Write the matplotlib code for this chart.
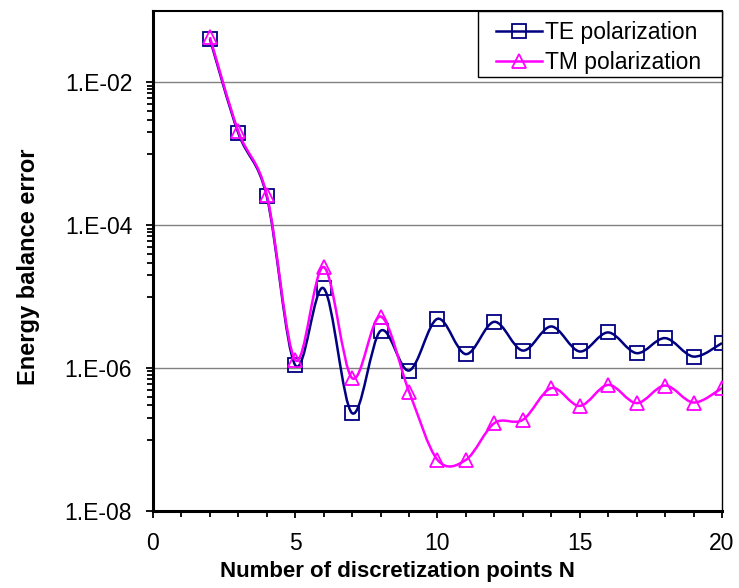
import numpy as np
import matplotlib
matplotlib.use("Agg")
import matplotlib.pyplot as plt
from matplotlib.path import Path
from matplotlib.patches import PathPatch, Rectangle
from matplotlib.lines import Line2D
from matplotlib.ticker import FixedLocator, FuncFormatter

plt.rcParams['font.family'] = ['Liberation Sans', 'DejaVu Sans']

# data
n_points = [2, 3, 4, 5, 6, 7, 8, 9, 10, 11, 12, 13, 14, 15, 16, 17, 18, 19, 20]
te_error = [4.06e-2, 1.95e-3, 2.53e-4, 1.10e-6, 1.31e-5, 2.34e-7, 3.33e-6, 9.25e-7,
            4.90e-6, 1.57e-6, 4.45e-6, 1.76e-6, 3.83e-6, 1.71e-6, 3.16e-6, 1.62e-6,
            2.63e-6, 1.45e-6, 2.24e-6]
tm_error = [4.30e-2, 2.06e-3, 2.67e-4, 1.30e-6, 2.60e-5, 7.24e-7, 5.28e-6, 4.70e-7,
            5.20e-8, 5.20e-8, 1.70e-7, 1.89e-7, 5.25e-7, 2.96e-7, 5.83e-7, 3.24e-7,
            5.70e-7, 3.30e-7, 5.25e-7]
y_major = [1e-8, 1e-6, 1e-4, 1e-2]
x_major = [0, 5, 10, 15, 20]

TE_COLOR = '#000080'
TM_COLOR = '#FF00FF'


def smooth_path(x, y):
    # Excel-like smoothed line: cubic bezier through the points (in log space)
    pts = np.column_stack([np.asarray(x, float), np.log10(y)])
    n = len(pts)
    verts = [pts[0]]
    codes = [Path.MOVETO]
    for i in range(n - 1):
        p0 = pts[max(i - 1, 0)]
        p1 = pts[i]
        p2 = pts[i + 1]
        p3 = pts[min(i + 2, n - 1)]
        verts += [p1 + (p2 - p0) / 6, p2 - (p3 - p1) / 6, p2]
        codes += [Path.CURVE4] * 3
    verts = np.array(verts)
    verts[:, 1] = 10 ** verts[:, 1]
    return Path(verts, codes)


fig = plt.figure(figsize=(7.39, 5.88), dpi=100)
ax = fig.add_axes([0.207, 0.131, 0.770, 0.8503])
ax.set_yscale('log')

for y, color, marker, z in [(te_error, TE_COLOR, 's', 3), (tm_error, TM_COLOR, '^', 4)]:
    ax.add_patch(PathPatch(smooth_path(n_points, y), facecolor='none', edgecolor=color,
                           lw=1.8, zorder=z))
    ax.plot(n_points, y, linestyle='none', marker=marker, markersize=10,
            markerfacecolor='none', markeredgecolor=color, markeredgewidth=1.3, zorder=z)

ax.set_xlim(0, 20)
ax.set_ylim(1e-8, 1e-1)

ax.yaxis.set_major_locator(FixedLocator(y_major))
minor = [k * 10.0 ** e for e in (-7, -5, -3) for k in range(1, 10)]
ax.yaxis.set_minor_locator(FixedLocator(minor))
ax.yaxis.set_major_formatter(FuncFormatter(lambda v, p: '1.E-%02d' % round(-np.log10(v))))
ax.yaxis.set_minor_formatter(FuncFormatter(lambda v, p: ''))
ax.xaxis.set_major_locator(FixedLocator(x_major))
ax.xaxis.set_minor_locator(FixedLocator(range(0, 21)))

ax.grid(True, which='major', axis='y', color='#808080', lw=1.0)
ax.set_axisbelow(True)

ax.tick_params(which='both', direction='out', width=1.3, labelsize=16.5, color='black')
ax.tick_params(which='major', length=5)
ax.tick_params(which='minor', length=4)
ax.tick_params(axis='x', pad=10)
ax.tick_params(axis='y', pad=10)

ax.spines['left'].set_linewidth(2.2)
ax.spines['bottom'].set_linewidth(2.2)
ax.spines['top'].set_linewidth(1.5)
ax.spines['right'].set_linewidth(1.0)

ax.set_xlabel('Number of discretization points N', fontsize=16, fontweight='bold')
ax.set_ylabel('Energy balance error', fontsize=17, fontweight='bold')
ax.xaxis.set_label_coords(0.429, -0.100)
ax.yaxis.set_label_coords(-0.199, 0.489)

# legend box (drawn separately so it can be wider than its content)
ax.add_patch(Rectangle((0.571, 0.868), 0.429, 0.132, transform=ax.transAxes,
                       facecolor='white', edgecolor='black', lw=1.0, zorder=5,
                       clip_on=False))
handles = [Line2D([], [], color=TE_COLOR, lw=1.8, marker='s', markersize=10,
                  markerfacecolor='none', markeredgewidth=1.3),
           Line2D([], [], color=TM_COLOR, lw=1.8, marker='^', markersize=10,
                  markerfacecolor='none', markeredgewidth=1.3)]
leg = ax.legend(handles, ['TE polarization', 'TM polarization'], loc='upper right',
                bbox_to_anchor=(0.982, 1.0), borderaxespad=0, fontsize=16.5,
                frameon=False, handlelength=2.0, handletextpad=0.15,
                labelspacing=0.28, borderpad=0.45)
leg.set_zorder(6)

fig.savefig('out.png', dpi=100)
